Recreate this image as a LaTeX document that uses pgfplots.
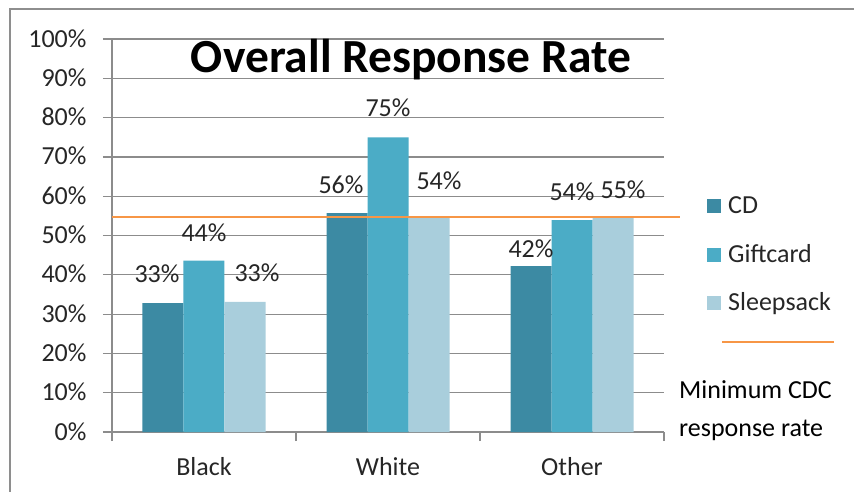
\documentclass[border=0pt]{standalone}
\usepackage{fontspec}
\setmainfont{Carlito}
\usepackage{pgfplots}
\usepackage{pgfplotstable}
\pgfplotsset{compat=1.18}
\definecolor{cdc}{HTML}{3C8AA3}
\definecolor{gift}{HTML}{4BACC6}
\definecolor{sleep}{HTML}{A9CEDC}
\definecolor{cdcline}{HTML}{F79646}
\definecolor{gridgray}{HTML}{8C8C8C}
\definecolor{framegray}{HTML}{8E8E8E}
\definecolor{txt}{HTML}{262626}
\newcommand{\fs}{\fontsize{26}{31}\selectfont}
\pgfplotstableread{
x y dx dy
0 32.8 -47 21
1 55.7 -47 20
2 42.2 -41 9
}\cdtab
\pgfplotstableread{
x y dx dy
0 43.6 0 19
1 75.0 0 21
2 53.9 0 20
}\gifttab
\pgfplotstableread{
x y dx dy
0 33.1 53 20
1 54.4 51 29
2 54.6 51 19
}\sleeptab
\begin{document}
\begin{tikzpicture}[x=1pt,y=1pt]
\begin{axis}[
  name=ax,
  width=552pt, height=393pt, scale only axis,
  xmin=-0.5, xmax=2.5, ymin=0, ymax=100,
  clip=false,
  axis x line*=bottom, axis y line*=left,
  axis line style={gridgray, line width=1.2pt},
  tick align=outside,
  major tick length=9pt,
  tick style={gridgray, line width=1.2pt},
  ymajorgrids,
  grid style={gridgray, line width=1.2pt},
  ytick={0,10,...,100},
  yticklabels={0\%,10\%,20\%,30\%,40\%,50\%,60\%,70\%,80\%,90\%,100\%},
  xtick={-0.5,0.5,1.5,2.5},
  xticklabels={},
  extra x ticks={0,1,2},
  extra x tick labels={Black,White,Other},
  extra x tick style={major tick length=0pt},
  tick label style={font=\fs, text=txt},
  yticklabel style={anchor=base east, xshift=-13pt, yshift=-8pt},
  xticklabel style={anchor=base, yshift=-43pt},
  /pgf/number format/assume math mode=true,
]
\addplot[ybar, bar width=41pt, bar shift=-41pt, fill=cdc, draw=none,
  visualization depends on={\thisrow{dx} \as \labdx},
  visualization depends on={\thisrow{dy} \as \labdy},
  nodes near coords={\pgfmathprintnumber[fixed,precision=0]{\pgfplotspointmeta}\%},
  every node near coord/.append style={anchor=base, inner sep=0pt, xshift=\labdx pt, yshift=\labdy pt, font=\fs, text=txt}]
  table[x=x,y=y] {\cdtab};
\addplot[ybar, bar width=41pt, bar shift=0pt, fill=gift, draw=none,
  visualization depends on={\thisrow{dx} \as \labdx},
  visualization depends on={\thisrow{dy} \as \labdy},
  nodes near coords={\pgfmathprintnumber[fixed,precision=0]{\pgfplotspointmeta}\%},
  every node near coord/.append style={anchor=base, inner sep=0pt, xshift=\labdx pt, yshift=\labdy pt, font=\fs, text=txt}]
  table[x=x,y=y] {\gifttab};
\addplot[ybar, bar width=41pt, bar shift=41pt, fill=sleep, draw=none,
  visualization depends on={\thisrow{dx} \as \labdx},
  visualization depends on={\thisrow{dy} \as \labdy},
  nodes near coords={\pgfmathprintnumber[fixed,precision=0]{\pgfplotspointmeta}\%},
  every node near coord/.append style={anchor=base, inner sep=0pt, xshift=\labdx pt, yshift=\labdy pt, font=\fs, text=txt}]
  table[x=x,y=y] {\sleeptab};
\addplot[cdcline, line width=2pt, mark=none] coordinates {(-0.5,54.8) (2.587,54.8)};
\node[anchor=base, font=\fontsize{47.5}{54}\bfseries\selectfont, text=black] at (axis cs:1.125,91.6) {Overall Response Rate};
\coordinate (O) at (axis cs:-0.5,0);
\end{axis}
\begin{scope}[shift={(O)}, xshift=-112pt, yshift=-59pt]
\draw[framegray, line width=2pt] (10,482) rectangle (920,-60);
% legend
\fill[cdc] (707,278) rectangle (721,292);
\node[anchor=base west, inner sep=0pt, font=\fs, text=txt] at (728,278) {CD};
\fill[gift] (707,229) rectangle (721,243);
\node[anchor=base west, inner sep=0pt, font=\fs, text=txt] at (728,229) {Giftcard};
\fill[sleep] (707,181) rectangle (721,195);
\node[anchor=base west, inner sep=0pt, font=\fs, text=txt] at (728,181) {Sleepsack};
\draw[cdcline, line width=2pt] (722,149) -- (834,149);
\node[anchor=base west, inner sep=0pt, font=\fs, text=black] at (679,93) {Minimum CDC};
\node[anchor=base west, inner sep=0pt, font=\fs, text=black] at (679,55) {response rate};
\end{scope}
\pgfresetboundingbox
\path[use as bounding box] ([shift={(-112pt,-59pt)}]O) rectangle ([shift={(742pt,432pt)}]O);
\end{tikzpicture}
\end{document}
